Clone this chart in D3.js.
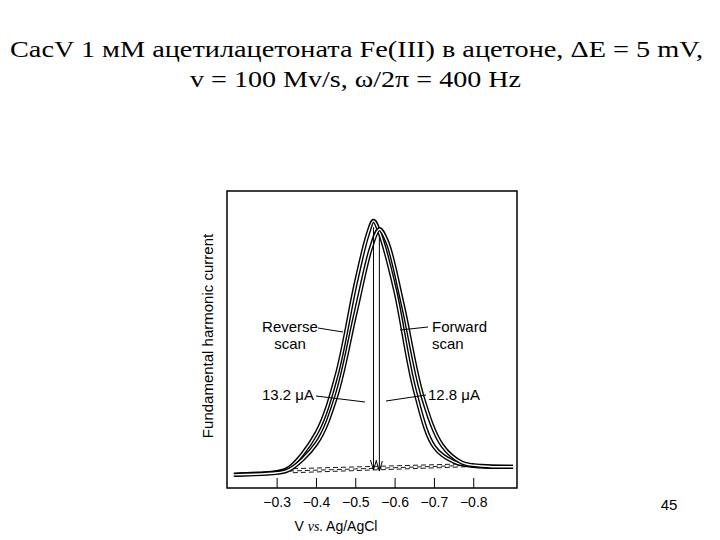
<!DOCTYPE html>
<html><head><meta charset="utf-8">
<script src="https://cdn.jsdelivr.net/npm/d3@7"></script>
<style>body{margin:0;background:#fff}</style>
</head><body>
<svg id="chart" width="720" height="540"></svg>
<script>
// potential (V) and fundamental harmonic current (arb.)
var reverseX = [-0.19, -0.25, -0.30, -0.33, -0.40, -0.45, -0.50, -0.53, -0.545, -0.56, -0.60, -0.65, -0.70, -0.75, -0.80, -0.90]
var reverseY = [0.62, 0.68, 0.75, 0.94, 2.59, 5.23, 9.66, 11.93, 12.59, 12.07, 9.33, 4.62, 1.93, 1.23, 1.04, 1.0]
var forwardX = [-0.19, -0.30, -0.33, -0.40, -0.45, -0.50, -0.54, -0.56, -0.58, -0.62, -0.67, -0.72, -0.77, -0.82, -0.90]
var forwardY = [0.62, 0.72, 0.85, 2.1, 4.3, 8.3, 11.4, 12.2, 11.6, 8.6, 4.3, 2.0, 1.2, 1.04, 1.0]
var ticks = [-0.3, -0.4, -0.5, -0.6, -0.7, -0.8]

var svg = d3.select("#chart")
var x = d3.scaleLinear().domain([-0.1725, -0.91]).range([227, 517])
var y = d3.scaleLinear().domain([0, 14]).range([488, 191])

svg.append("text").attr("x", 10).attr("y", 57).attr("textLength", 693).attr("lengthAdjust", "spacingAndGlyphs")
  .style("font", "24px 'Liberation Serif'").text("CacV 1 мМ ацетилацетоната Fe(III) в ацетоне, ΔE = 5 mV,")
svg.append("text").attr("x", 190).attr("y", 87).attr("textLength", 331).attr("lengthAdjust", "spacingAndGlyphs")
  .style("font", "24px 'Liberation Serif'").text("v = 100 Mv/s, ω/2π = 400 Hz")

svg.append("rect").attr("x", 227).attr("y", 191).attr("width", 290).attr("height", 297)
  .attr("fill", "none").attr("stroke", "#000").attr("stroke-width", 1.5)

ticks.forEach(function(t) {
  svg.append("line").attr("x1", x(t)).attr("x2", x(t)).attr("y1", 488).attr("y2", 478).attr("stroke", "#000")
  svg.append("text").attr("x", x(t)).attr("y", 507).attr("text-anchor", "middle")
    .style("font", "14px 'Liberation Sans'").text("\u2212" + Math.abs(t).toFixed(1))
})

var lab = svg.append("text").attr("x", 336).attr("y", 531).attr("text-anchor", "middle").style("font", "14px 'Liberation Sans'")
lab.append("tspan").text("V ")
lab.append("tspan").style("font-style", "italic").style("font-family", "'Liberation Serif'").text("vs.")
lab.append("tspan").text(" Ag/AgCl")

svg.append("text").attr("transform", "translate(213,336) rotate(-90)").attr("text-anchor", "middle")
  .style("font", "15px 'Liberation Sans'").text("Fundamental harmonic current")

// dashed baselines
var dash = [[-0.32, 0.9, -0.80, 1.15], [-0.34, 0.72, -0.78, 1.0], [-0.33, 0.8, -0.79, 1.07]]
dash.forEach(function(d) {
  svg.append("line").attr("x1", x(d[0])).attr("y1", y(d[1])).attr("x2", x(d[2])).attr("y2", y(d[3]))
    .attr("stroke", "#000").attr("stroke-dasharray", "5,3").attr("stroke-width", 0.9)
})

var line = d3.line().x(function(d) { return x(d[0]) }).y(function(d) { return y(d[1]) }).curve(d3.curveCatmullRom)
function curve(xs, ys) {
  var pts = xs.map(function(v, i) { return [v, ys[i]] })
  svg.append("path").attr("d", line(pts)).attr("fill", "none").attr("stroke", "#000").attr("stroke-width", 4.2)
  svg.append("path").attr("d", line(pts)).attr("fill", "none").attr("stroke", "#fff").attr("stroke-width", 1.4)
}
curve(reverseX, reverseY)
curve(forwardX, forwardY)

// peak arrows
function arrow(px, top, bot) {
  svg.append("line").attr("x1", x(px)).attr("x2", x(px)).attr("y1", y(top)).attr("y2", y(bot)).attr("stroke", "#000").attr("stroke-width", 1)
  svg.append("path").attr("d", "M" + (x(px) - 3) + "," + (y(bot) - 10) + "L" + x(px) + "," + y(bot) + "L" + (x(px) + 3) + "," + (y(bot) - 10))
    .attr("fill", "none").attr("stroke", "#000")
}
arrow(-0.545, 12.3, 0.85)
arrow(-0.56, 11.9, 0.8)

function text(tx, ty, s, anchor) {
  svg.append("text").attr("x", tx).attr("y", ty).attr("text-anchor", anchor).style("font", "15px 'Liberation Sans'").text(s)
}
text(290, 332, "Reverse", "middle"); text(290, 349, "scan", "middle")
text(432, 332, "Forward", "start"); text(432, 349, "scan", "start")
text(262, 400, "13.2 \u03bcA", "start"); text(428, 400, "12.8 \u03bcA", "start")
var leaders = [[318, 328, 343, 332], [400, 330, 428, 327], [316, 396, 365, 402], [386, 401, 426, 395]]
leaders.forEach(function(l) {
  svg.append("line").attr("x1", l[0]).attr("y1", l[1]).attr("x2", l[2]).attr("y2", l[3]).attr("stroke", "#000")
})

text(669, 510, "45", "middle")
</script>
</body></html>
